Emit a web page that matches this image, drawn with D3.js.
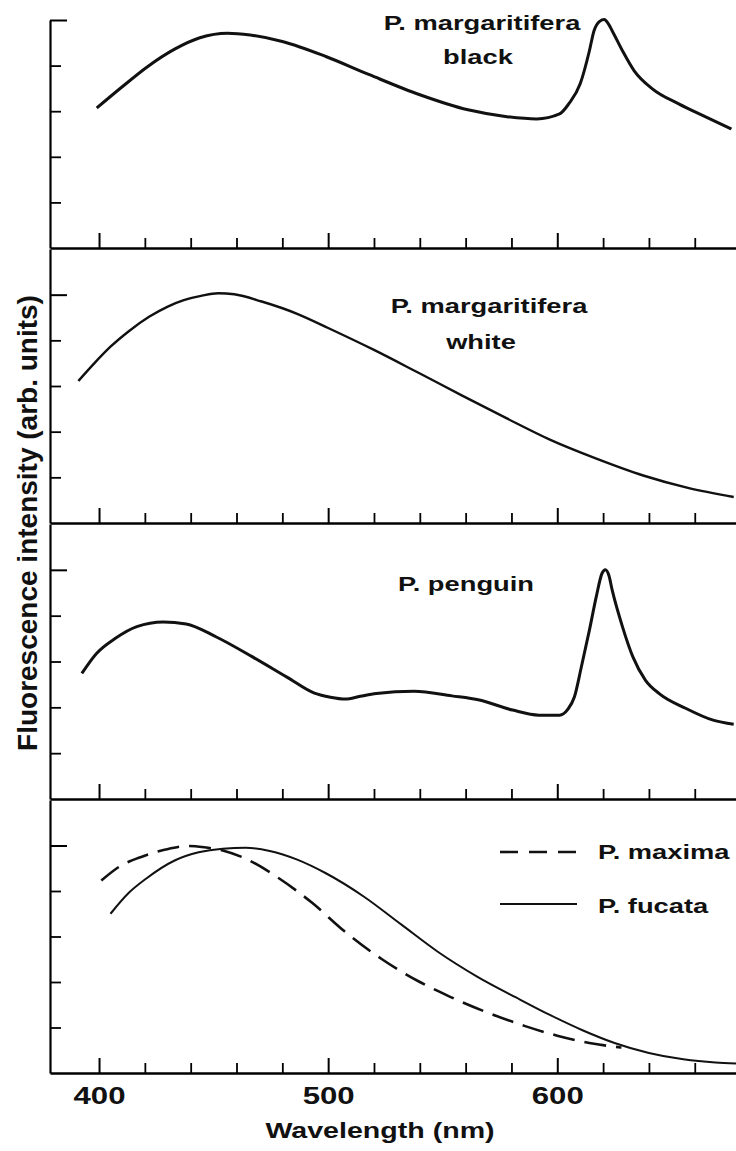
<!DOCTYPE html>
<html>
<head>
<meta charset="utf-8">
<script src="https://cdn.jsdelivr.net/npm/d3@7"></script>
<style>
  body { margin: 0; background: #fff; }
  text { font-family: "Liberation Sans", Arial, sans-serif; font-weight: bold; fill: #111; }
</style>
</head>
<body>
<div id="chart"></div>
<script>
// wavelength (nm) / intensity (arb. units, 1 = one tick step)
var blackWl  = [399, 410, 421, 433, 444, 456, 466, 480, 499, 518, 540, 561, 578, 591, 601, 605, 610, 614, 616, 618.5, 620.5, 622.5, 624, 628.5, 633.5, 641.5, 653, 665, 676];
var blackVal = [3.07, 3.53, 3.97, 4.36, 4.61, 4.71, 4.67, 4.53, 4.20, 3.80, 3.36, 3.03, 2.88, 2.83, 2.94, 3.16, 3.6, 4.32, 4.76, 4.97, 5.01, 4.90, 4.76, 4.32, 3.89, 3.49, 3.16, 2.87, 2.61];

var whiteWl  = [391, 398, 405, 413, 422, 430, 437, 445, 452, 459, 471, 487, 500, 520, 539, 558.5, 578, 597, 616.5, 637.5, 657, 677];
var whiteVal = [3.11, 3.50, 3.86, 4.20, 4.52, 4.74, 4.88, 4.98, 5.03, 5.01, 4.85, 4.57, 4.27, 3.79, 3.30, 2.79, 2.29, 1.82, 1.42, 1.04, 0.77, 0.57];

var penguinWl  = [392.5, 399, 407, 416.5, 428, 438, 451, 467, 482, 494, 501, 507.5, 514, 521, 537.5, 554, 566, 580.5, 592, 601, 604.5, 607.5, 610.5, 614, 617, 619.5, 621, 622.5, 624, 628.5, 633, 638.5, 644.5, 656, 668, 677];
var penguinVal = [2.74, 3.18, 3.50, 3.76, 3.86, 3.82, 3.54, 3.10, 2.66, 2.31, 2.22, 2.18, 2.24, 2.30, 2.35, 2.25, 2.16, 1.94, 1.83, 1.83, 1.95, 2.23, 2.88, 3.68, 4.41, 4.92, 5.0, 4.88, 4.55, 3.75, 3.10, 2.59, 2.30, 1.98, 1.72, 1.63];

var maximaWl  = [401, 409, 419, 429, 439, 446, 454, 464, 478.5, 493, 507, 523.5, 540, 553, 570, 586, 600, 614, 628];
var maximaVal = [4.23, 4.54, 4.76, 4.91, 4.99, 4.96, 4.89, 4.71, 4.28, 3.74, 3.12, 2.50, 2.00, 1.68, 1.32, 1.03, 0.82, 0.66, 0.56];

var fucataWl  = [405, 413, 420.5, 433, 443.5, 454, 464, 474.5, 486.5, 499, 515.5, 532, 548, 565, 582, 597, 611, 625, 640, 655, 669, 678];
var fucataVal = [3.50, 3.96, 4.27, 4.67, 4.85, 4.93, 4.95, 4.88, 4.69, 4.39, 3.88, 3.26, 2.66, 2.12, 1.66, 1.27, 0.94, 0.66, 0.44, 0.30, 0.23, 0.21];

var majorTicks = [400, 500, 600];
var minorTicks = [420, 440, 460, 480, 520, 540, 560, 580, 620, 640, 660];
var tickLabels = ["400", "500", "600"];

var width = 736, height = 1151;
var stretch = 1.3;   // lettering in the figure is wider than it is tall

var svg = d3.select("#chart")
    .append("svg")
    .attr("width", width)
    .attr("height", height);

var x = d3.scaleLinear().domain([378.6, 678]).range([50, 736]);

var line = d3.line()
    .x(function(d) { return x(d[0]); })
    .y(function(d) { return d[2](d[1]); })
    .curve(d3.curveMonotoneX);

function addText(sel, str, tx, ty, size, anchor) {
    return sel.append("text")
        .attr("transform", "translate(" + tx + "," + ty + ") scale(" + stretch + ",1)")
        .attr("text-anchor", anchor || "middle")
        .style("font-size", size + "px")
        .text(str);
}

var panels = [
    {bottom: 248, top: 20, max: 5,
     series: [{wl: blackWl, val: blackVal, w: 3}],
     labels: [["P. margaritifera", 482, 30], ["black", 478, 64]]},
    {bottom: 523, top: 249, max: 6,
     series: [{wl: whiteWl, val: whiteVal, w: 2.4}],
     labels: [["P. margaritifera", 489, 313], ["white", 481, 349]]},
    {bottom: 799, top: 524, max: 6,
     series: [{wl: penguinWl, val: penguinVal, w: 3}],
     labels: [["P. penguin", 466, 591]]},
    {bottom: 1073, top: 800, max: 6,
     series: [{wl: maximaWl, val: maximaVal, w: 2.6, dash: "22,10"},
              {wl: fucataWl, val: fucataVal, w: 2}],
     labels: []}
];

panels.forEach(function(p, i) {
    var y = d3.scaleLinear().domain([0, p.max]).range([p.bottom, p.top]);
    var g = svg.append("g");

    // y axis: short ticks 1-4, long tick at 5
    g.append("g")
        .attr("transform", "translate(50,0)")
        .call(d3.axisLeft(y).tickValues([1, 2, 3, 4]).tickSizeInner(-11).tickSizeOuter(0).tickFormat(""))
        .call(function(a) {
            a.select(".domain").attr("stroke-width", 2.2);
            a.selectAll(".tick line").attr("stroke-width", 1.8);
        });
    g.append("g")
        .attr("transform", "translate(50,0)")
        .call(d3.axisLeft(y).tickValues([5]).tickSizeInner(-17).tickSizeOuter(0).tickFormat(""))
        .call(function(a) {
            a.select(".domain").remove();
            a.selectAll(".tick line").attr("stroke-width", 2);
        });

    // x axis with ticks pointing up
    g.append("g")
        .attr("transform", "translate(0," + p.bottom + ")")
        .call(d3.axisBottom(x).tickValues(minorTicks).tickSizeInner(-10).tickSizeOuter(0).tickFormat(""))
        .call(function(a) {
            a.select(".domain").attr("stroke-width", 2.4);
            a.selectAll(".tick line").attr("stroke-width", 1.8);
        });
    var major = g.append("g")
        .attr("transform", "translate(0," + p.bottom + ")")
        .call(d3.axisBottom(x).tickValues(majorTicks).tickSizeInner(-15).tickSizeOuter(0)
            .tickFormat(i === panels.length - 1 ? function(d, k) { return tickLabels[k]; } : ""))
        .call(function(a) {
            a.select(".domain").remove();
            a.selectAll(".tick line").attr("stroke-width", 2);
        });
    major.selectAll(".tick text")
        .attr("y", 31)
        .attr("dy", 0)
        .attr("x", 0)
        .attr("transform", "scale(" + stretch + ",1)")
        .style("font-size", "24px")
        .style("font-family", '"Liberation Sans", Arial, sans-serif')
        .style("font-weight", "bold")
        .attr("fill", "#111");

    p.series.forEach(function(s) {
        var pts = d3.zip(s.wl, s.val).map(function(d) { return [d[0], d[1], y]; });
        g.append("path")
            .datum(pts)
            .attr("d", line)
            .attr("fill", "none")
            .attr("stroke", "#111")
            .attr("stroke-width", s.w)
            .attr("stroke-linejoin", "round")
            .attr("stroke-dasharray", s.dash || null);
    });

    p.labels.forEach(function(l) {
        addText(g, l[0], l[1], l[2], 21);
    });
});

// legend in the bottom panel
var legend = svg.append("g");
legend.append("line")
    .attr("x1", 500).attr("x2", 577).attr("y1", 852).attr("y2", 852)
    .attr("stroke", "#111").attr("stroke-width", 2.6).attr("stroke-dasharray", "18,11");
legend.append("line")
    .attr("x1", 500).attr("x2", 577).attr("y1", 904).attr("y2", 904)
    .attr("stroke", "#111").attr("stroke-width", 2);
addText(legend, "P. maxima", 598, 859, 21, "start");
addText(legend, "P. fucata", 598, 913, 21, "start");

// axis titles
addText(svg, "Wavelength (nm)", 380, 1138, 22);
svg.append("text")
    .attr("transform", "translate(37,523) rotate(-90)")
    .attr("text-anchor", "middle")
    .style("font-size", "28px")
    .text("Fluorescence intensity (arb. units)");
</script>
</body>
</html>
